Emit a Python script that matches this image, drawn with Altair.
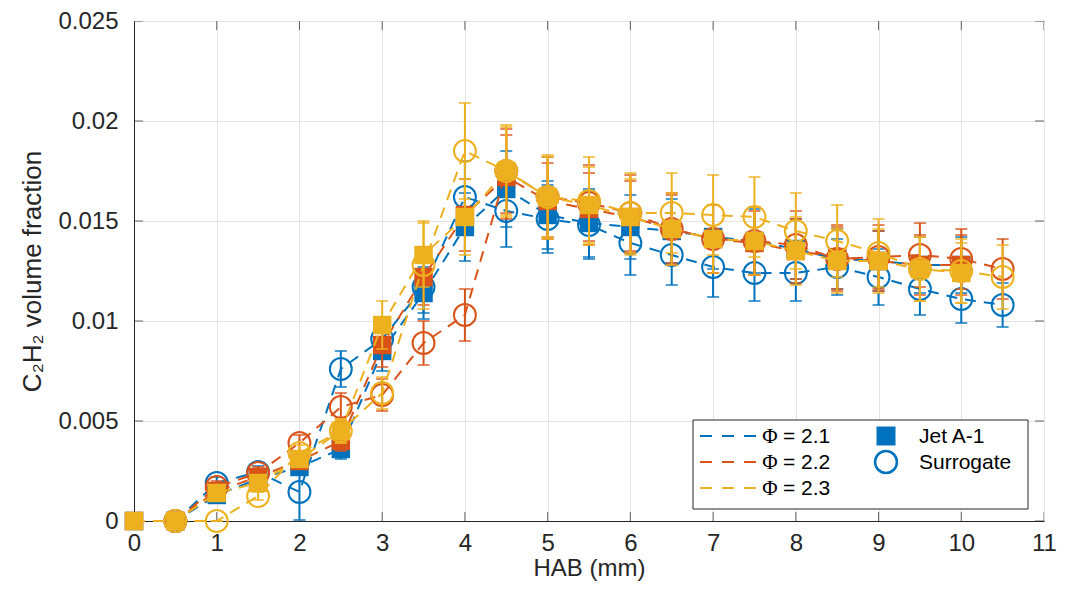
import altair as alt
import pandas as pd

# ---------------- data ----------------
x_jet = [0, 0.5, 1, 1.5, 2, 2.5, 3, 3.5, 4, 4.5, 5, 5.5, 6, 6.5, 7, 7.5, 8, 8.5, 9, 9.5, 10]
x_sur = [0.5, 1, 1.5, 2, 2.5, 3, 3.5, 4, 4.5, 5, 5.5, 6, 6.5, 7, 7.5, 8, 8.5, 9, 9.5, 10, 10.5]

jet_21 = [0, 0, 0.0013, 0.0021, 0.0027, 0.0036, 0.0085, 0.0114, 0.0147, 0.0166, 0.0153,
          0.0149, 0.0147, 0.0145, 0.0142, 0.0140, 0.0136, 0.0131, 0.0130, 0.0128, 0.0128]
jet_21_err = [0, 0, 0.0002, 0.0003, 0.0004, 0.0005, 0.0010, 0.0013, 0.0017, 0.0019, 0.0017,
              0.0017, 0.0016, 0.0016, 0.0016, 0.0016, 0.0015, 0.0015, 0.0015, 0.0014, 0.0014]
jet_22 = [0, 0, 0.0015, 0.0022, 0.0030, 0.0040, 0.0088, 0.0122, 0.0153, 0.0172, 0.0160,
          0.0156, 0.0152, 0.0146, 0.0141, 0.0139, 0.0135, 0.0132, 0.0130, 0.0128, 0.0128]
jet_22_err = [0, 0, 0.0002, 0.0003, 0.0004, 0.0005, 0.0011, 0.0014, 0.0018, 0.0021, 0.0019,
              0.0018, 0.0018, 0.0017, 0.0017, 0.0016, 0.0016, 0.0016, 0.0015, 0.0015, 0.0015]
jet_23 = [0, 0, 0.0014, 0.0019, 0.0031, 0.0045, 0.0098, 0.0133, 0.0152, 0.0175, 0.0162,
          0.0158, 0.0152, 0.0146, 0.0141, 0.0140, 0.0135, 0.0130, 0.0130, 0.0126, 0.0124]
jet_23_err = [0, 0, 0.0002, 0.0003, 0.0004, 0.0006, 0.0012, 0.0016, 0.0019, 0.0022, 0.0020,
              0.0019, 0.0019, 0.0018, 0.0017, 0.0017, 0.0017, 0.0016, 0.0016, 0.0016, 0.0015]

sur_21 = [0, 0.0019, 0.00245, 0.00145, 0.0076, 0.0091, 0.0117, 0.0162, 0.0155, 0.0151, 0.0148,
          0.0139, 0.0133, 0.0127, 0.0124, 0.0124, 0.0127, 0.0122, 0.0116, 0.0111, 0.0108]
sur_21_err = [0, 0.0003, 0.0003, 0.0014, 0.0009, 0.0010, 0.0013, 0.0018, 0.0018, 0.0017, 0.0017,
              0.0016, 0.0015, 0.0015, 0.0014, 0.0014, 0.0014, 0.0014, 0.0013, 0.0012, 0.0011]
sur_22 = [0, 0.0017, 0.0024, 0.0039, 0.0057, 0.0063, 0.0089, 0.0103, 0.0175, 0.0162, 0.0159,
          0.0154, 0.0146, 0.0141, 0.0140, 0.0138, 0.0131, 0.0132, 0.0133, 0.0131, 0.0126]
sur_22_err = [0, 0.0003, 0.0003, 0.0004, 0.0007, 0.0008, 0.0011, 0.0013, 0.0021, 0.0020, 0.0019,
              0.0019, 0.0018, 0.0017, 0.0017, 0.0017, 0.0016, 0.0016, 0.0016, 0.0015, 0.0015]
sur_23 = [0, 0, 0.00125, 0.0034, 0.0045, 0.0064, 0.0128, 0.0185, 0.0175, 0.0162, 0.0160,
          0.0154, 0.0154, 0.0153, 0.0152, 0.0145, 0.0140, 0.0134, 0.0126, 0.0125, 0.0122]
sur_23_err = [0, 0, 0.0002, 0.0004, 0.0006, 0.0008, 0.0022, 0.0024, 0.0023, 0.0021, 0.0022,
              0.0020, 0.0020, 0.0020, 0.0020, 0.0019, 0.0018, 0.0017, 0.0016, 0.0016, 0.0016]

phi_labels = ["2.1", "2.2", "2.3"]
fuel_labels = ["Jet A-1", "Surrogate"]
x_ticks = [0, 1, 2, 3, 4, 5, 6, 7, 8, 9, 10, 11]
y_ticks = [0, 0.005, 0.01, 0.015, 0.02, 0.025]

# ---------------- styling ----------------
BLUE, ORANGE, YELLOW = "#0072BD", "#D95319", "#EDB120"
AX = "#262626"
FONT = "Liberation Sans"
W, H = 910, 500
DASH = [11, 8]

xs = alt.Scale(domain=[0, 11], nice=False, zero=False)
ys = alt.Scale(domain=[0, 0.025], nice=False, zero=False)
XAXIS = alt.Axis(values=x_ticks, format="d", ticks=False, grid=True, labelFlush=False,
                 labelPadding=10, titlePadding=1, titleFontSize=24)
YAXIS = alt.Axis(values=y_ticks, format="~g", ticks=False, grid=True, labelFlush=False,
                 labelPadding=16, titlePadding=12, titleFontSize=26)
XT = "HAB (mm)"
YT = "C₂H₂ volume fraction"


def X(field):
    return alt.X(field, scale=xs, axis=XAXIS, title=XT)


def Y(field):
    return alt.Y(field, scale=ys, axis=YAXIS, title=YT)


series = [
    (x_jet, jet_21, jet_21_err, BLUE, "square"),
    (x_sur, sur_21, sur_21_err, BLUE, "circle"),
    (x_jet, jet_22, jet_22_err, ORANGE, "square"),
    (x_sur, sur_22, sur_22_err, ORANGE, "circle"),
    (x_jet, jet_23, jet_23_err, YELLOW, "square"),
    (x_sur, sur_23, sur_23_err, YELLOW, "circle"),
]

frame_df = pd.DataFrame({"x": [0, 11], "y": [0, 0.025]})
layers = [alt.Chart(frame_df).mark_point(opacity=0).encode(x=X("x:Q"), y=Y("y:Q"))]

# inward tick marks on all four sides (clipped ticks)
yt = pd.DataFrame({"v": y_ticks})
xt = pd.DataFrame({"v": x_ticks})
for xpos in [0, 11]:
    layers.append(alt.Chart(yt).mark_tick(orient="horizontal", size=18, thickness=1,
                                          color=AX, clip=True).encode(
        x=X("xx:Q"), y=Y("v:Q")).transform_calculate(xx=str(xpos)))
for ypos in [0, 0.025]:
    layers.append(alt.Chart(xt).mark_tick(orient="vertical", size=18, thickness=1,
                                          color=AX, clip=True).encode(
        x=X("v:Q"), y=Y("yy:Q")).transform_calculate(yy=str(ypos)))

for xv, yv, ev, col, shp in series:
    df = pd.DataFrame({"x": xv, "y": yv, "err": ev})
    df["lo"] = df["y"] - df["err"]
    df["hi"] = df["y"] + df["err"]
    c = alt.Chart(df)
    layers.append(c.mark_line(strokeDash=DASH, strokeWidth=2, color=col).encode(
        x=X("x:Q"), y=Y("y:Q")))
    layers.append(c.mark_rule(strokeWidth=2, color=col).encode(
        x=X("x:Q"), y=Y("lo:Q"), y2="hi:Q"))
    for f in ["lo", "hi"]:
        layers.append(c.mark_tick(orient="horizontal", size=12, thickness=2, color=col).encode(
            x=X("x:Q"), y=Y(f + ":Q")))
    if shp == "square":
        pt = c.mark_point(shape="square", filled=True, size=340, color=col, opacity=1)
    else:
        pt = c.mark_point(shape="circle", filled=False, size=480, strokeWidth=2,
                          color=col, opacity=1)
    layers.append(pt.encode(x=X("x:Q"), y=Y("y:Q")))

# ---------------- manual legend (pixel positions inside plot area) ----------------
one = pd.DataFrame({"a": [0]})
L = alt.Chart(one)
layers.append(L.mark_rect(fill="white", stroke=AX, strokeWidth=1).encode(
    x=alt.value(559), x2=alt.value(894), y=alt.value(399), y2=alt.value(488)))
rows = [415, 441, 467]
for lab, col, ry in zip(phi_labels, [BLUE, ORANGE, YELLOW], rows):
    layers.append(L.mark_rule(strokeDash=[12, 10], strokeWidth=2, color=col).encode(
        x=alt.value(566), x2=alt.value(623), y=alt.value(ry)))
    layers.append(L.mark_text(text="Φ", font="Liberation Serif", fontSize=21, color="black",
                              align="center", baseline="middle").encode(
        x=alt.value(636), y=alt.value(ry + 1)))
    layers.append(L.mark_text(text="= " + lab, font=FONT, fontSize=21, color="black",
                              align="left", baseline="middle").encode(
        x=alt.value(649), y=alt.value(ry + 1)))
layers.append(L.mark_point(shape="square", filled=True, size=360, color=BLUE, opacity=1).encode(
    x=alt.value(752), y=alt.value(rows[0])))
layers.append(L.mark_point(shape="circle", filled=False, size=480, strokeWidth=2.5,
                           color=BLUE, opacity=1).encode(x=alt.value(752), y=alt.value(rows[1])))
for lab, ry in zip(fuel_labels, rows[:2]):
    layers.append(L.mark_text(text=lab, font=FONT, fontSize=21, color="black",
                              align="left", baseline="middle").encode(
        x=alt.value(785), y=alt.value(ry + 1)))

chart = alt.layer(*layers).properties(
    width=W, height=H,
    autosize=alt.AutoSizeParams(type="none"),
    padding={"left": 126, "top": 13, "right": 18, "bottom": 61},
).configure(font=FONT).configure_view(
    stroke=AX, strokeWidth=1
).configure_axis(
    domainColor=AX, domainWidth=1, gridColor="#e3e3e3", gridWidth=1,
    labelColor=AX, labelFont=FONT, labelFontSize=24, titleColor=AX,
    titleFont=FONT, titleFontWeight="normal",
)

chart.save("out.html", embed_options={"renderer": "svg", "actions": False})
